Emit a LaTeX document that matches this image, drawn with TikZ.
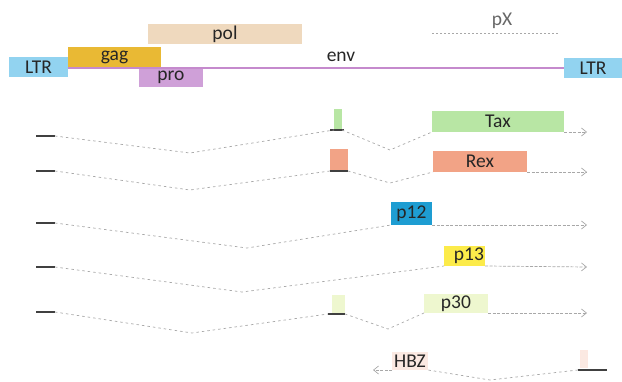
\documentclass[tikz,border=0pt]{standalone}
\usepackage{fontspec}
\setmainfont{Carlito}
\usetikzlibrary{arrows.meta}
\definecolor{ltrc}{HTML}{92D3F0}
\definecolor{gagc}{HTML}{E9B934}
\definecolor{polc}{HTML}{EFD9BE}
\definecolor{proc}{HTML}{CFA0D8}
\definecolor{linec}{HTML}{C58ACD}
\definecolor{taxc}{HTML}{B8E6A4}
\definecolor{rexc}{HTML}{F2A386}
\definecolor{p12c}{HTML}{1E9DD2}
\definecolor{p13c}{HTML}{FCEB4A}
\definecolor{p30c}{HTML}{EEF7CF}
\definecolor{hbzc}{HTML}{FBE9E2}
\definecolor{txtc}{HTML}{262626}
\definecolor{dashc}{HTML}{A8A8A8}
\tikzset{
  seg/.style={rectangle, inner sep=0pt, outer sep=0pt, text=txtc, font=\fontsize{19.5}{19.5}\selectfont},
  blackbar/.style={draw=black!75, line width=1.2pt},
  splice/.style={draw=dashc, line width=0.7pt, dash pattern=on 2.5pt off 3pt},
  transc/.style={draw=dashc, line width=0.7pt, dash pattern=on 3pt off 1.5pt, -{Straight Barb[length=5pt,width=8pt]}},
}
\begin{document}
\begin{tikzpicture}[x=1pt,y=-1pt]
\useasboundingbox (0,0) rectangle (622,382);
% genome
\node[seg, fill=polc, minimum width=154, minimum height=20] (pol) at (225,34) {pol};
\node[seg, fill=gagc, minimum width=93, minimum height=20] (gag) at (114.5,57) {gag};
\node[seg, fill=ltrc, minimum width=59, minimum height=20] (ltrl) at (38.5,67) {LTR};
\node[seg, fill=ltrc, minimum width=58, minimum height=20] (ltrr) at (593,68) {LTR};
\node[seg, fill=proc, minimum width=64, minimum height=19] (pro) at (171,77.5) {pro};
\draw[draw=linec, line width=1.3pt] (ltrl.east |- 0,68) -- (ltrr.west |- 0,68);
\node[seg] (env) at (341,57) {env};
\node[seg, text=txtc!70] (px) at (502,21) {pX};
\coordinate (pxa) at (432,33);
\coordinate (pxb) at (558,33);
\draw[draw=dashc, line width=0.7pt, dash pattern=on 1.5pt off 2.5pt] (pxa) -- (pxb);

% Tax
\coordinate (b1a) at (36,136); \coordinate (b1b) at (55,136);
\draw[blackbar] (b1a) -- (b1b);
\node[seg, fill=taxc, minimum width=8, minimum height=21] (tx1) at (338,119.5) {};
\draw[blackbar] ([xshift=-4pt]tx1.south west) -- ([xshift=2pt]tx1.south east);
\node[seg, fill=taxc, minimum width=132, minimum height=21] (tax) at (498,121.5) {Tax};
\coordinate (d1a) at (190,153); \coordinate (d1b) at (390,150);
\coordinate (e1) at (587,132);
\draw[splice] (b1b) -- (d1a) -- (tx1.south west);
\draw[splice] (tx1.south east) -- (d1b) -- (tax.south west);
\draw[transc] (tax.south east) -- (e1);

% Rex
\coordinate (b2a) at (36,171); \coordinate (b2b) at (55,171);
\draw[blackbar] (b2a) -- (b2b);
\node[seg, fill=rexc, minimum width=18, minimum height=22] (rx1) at (339,160) {};
\draw[blackbar] (rx1.south west) -- (rx1.south east);
\node[seg, fill=rexc, minimum width=94, minimum height=21] (rex) at (480,161.5) {Rex};
\coordinate (d2a) at (190,190); \coordinate (d2b) at (390,183);
\coordinate (e2) at (587,172);
\draw[splice] (b2b) -- (d2a) -- (rx1.south west);
\draw[splice] (rx1.south east) -- (d2b) -- (rex.south west);
\draw[transc] (rex.south east) -- (e2);

% p12
\coordinate (b3a) at (36,223); \coordinate (b3b) at (55,223);
\draw[blackbar] (b3a) -- (b3b);
\node[seg, fill=p12c, minimum width=41, minimum height=23] (p12) at (411.5,213.5) {p12};
\coordinate (d3) at (247,248); \coordinate (e3) at (587,225);
\draw[splice] (b3b) -- (d3) -- (p12.south west);
\draw[transc] (p12.south east) -- (e3);

% p13
\coordinate (b4a) at (36,267); \coordinate (b4b) at (55,267);
\draw[blackbar] (b4a) -- (b4b);
\node[seg, fill=p13c, minimum width=41, minimum height=20, text width=39, align=right] (p13) at (464.5,256) {p13};
\coordinate (d4) at (242,292); \coordinate (e4) at (587,267);
\draw[splice] (b4b) -- (d4) -- (p13.south west);
\draw[transc] (p13.south east) -- (e4);

% p30
\coordinate (b5a) at (36,312); \coordinate (b5b) at (55,312);
\draw[blackbar] (b5a) -- (b5b);
\node[seg, fill=p30c, minimum width=13, minimum height=19] (p3s) at (338.5,304.5) {};
\draw[blackbar] ([xshift=-4pt]p3s.south west) -- (p3s.south east);
\node[seg, fill=p30c, minimum width=64, minimum height=19] (p30) at (456,303.5) {p30};
\coordinate (d5a) at (192,333); \coordinate (d5b) at (388,329);
\coordinate (e5) at (587,313);
\draw[splice] (b5b) -- (d5a) -- ([xshift=-4pt]p3s.south west);
\draw[splice] (p3s.south east) -- (d5b) -- (p30.south west);
\draw[transc] (p30.south east) -- (e5);

% HBZ
\node[seg, fill=hbzc, draw=rexc!25, minimum width=7, minimum height=17] (hbs) at (583.5,358.5) {};
\coordinate (b6a) at (578,370); \coordinate (b6b) at (607,370);
\draw[blackbar] (b6a) -- (b6b);
\node[seg, fill=hbzc, minimum width=36, minimum height=18] (hbz) at (410,361) {HBZ};
\coordinate (d6) at (490,380); \coordinate (e6) at (373,370);
\draw[splice] (b6a) -- (d6) -- (hbz.south east);
\draw[transc] (hbz.south west) -- (e6);
\end{tikzpicture}
\end{document}
